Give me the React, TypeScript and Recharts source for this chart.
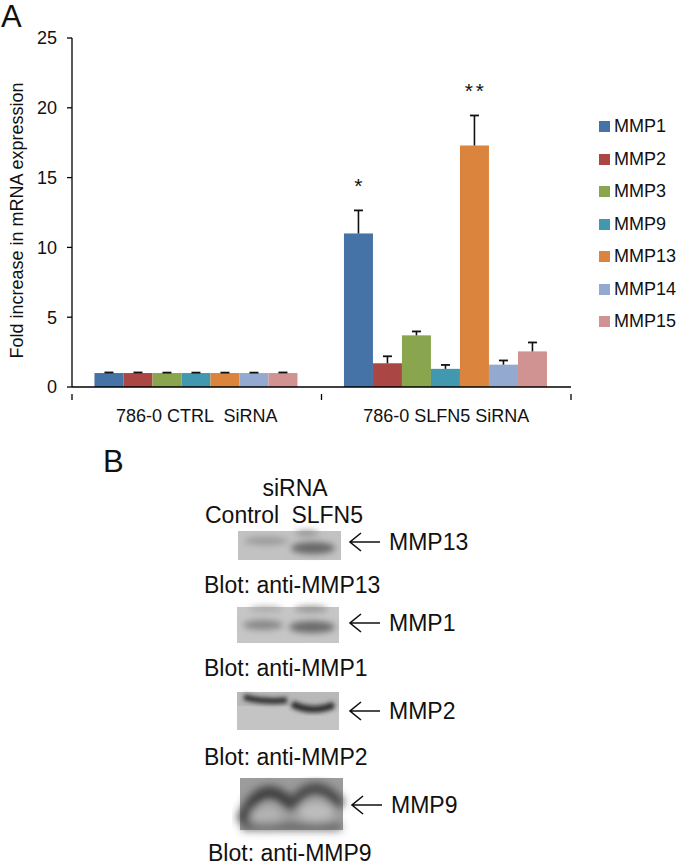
import React from "react";
import { BarChart, Bar, XAxis, YAxis, Legend } from "recharts";

const FONT = "'Liberation Sans', Arial, Helvetica, sans-serif";

// ---------- Panel A data ----------
const categories = ["786-0 CTRL  SiRNA", "786-0 SLFN5 SiRNA"];
const seriesNames = ["MMP1", "MMP2", "MMP3", "MMP9", "MMP13", "MMP14", "MMP15"];
const seriesColors = ["#4572A7", "#AA4643", "#89A54E", "#4198AF", "#DB843D", "#93A9CF", "#D19392"];

const mmp1 = [1.0, 11.0];
const mmp2 = [1.0, 1.7];
const mmp3 = [1.0, 3.7];
const mmp9 = [1.0, 1.3];
const mmp13 = [1.0, 17.3];
const mmp14 = [1.0, 1.6];
const mmp15 = [1.0, 2.55];

const mmp1Err = [0.04, 1.65];
const mmp2Err = [0.04, 0.5];
const mmp3Err = [0.03, 0.28];
const mmp9Err = [0.03, 0.28];
const mmp13Err = [0.03, 2.15];
const mmp14Err = [0.03, 0.3];
const mmp15Err = [0.04, 0.64];

const mmp1Sig = [0, 1];
const mmp13Sig = [0, 2];
const noSig = [0, 0];

const yTicks = [0, 5, 10, 15, 20, 25];
const yLabel = "Fold increase in mRNA expression";

const seriesValues = [mmp1, mmp2, mmp3, mmp9, mmp13, mmp14, mmp15];
const seriesErrors = [mmp1Err, mmp2Err, mmp3Err, mmp9Err, mmp13Err, mmp14Err, mmp15Err];
const seriesSig = [mmp1Sig, noSig, noSig, noSig, mmp13Sig, noSig, noSig];

const data = categories.map((cat, i) => {
  const row: any = { category: cat };
  seriesNames.forEach((s, k) => {
    row[s] = seriesValues[k][i];
    row[s + "Err"] = seriesErrors[k][i];
    row[s + "Sig"] = seriesSig[k][i];
  });
  return row;
});

// ---------- Panel B content ----------
const blotNames = ["MMP13", "MMP1", "MMP2", "MMP9"];
const blotCaptions = ["Blot: anti-MMP13", "Blot: anti-MMP1", "Blot: anti-MMP2", "Blot: anti-MMP9"];
const laneLabels = ["Control", "SLFN5"];
const headerLabel = "siRNA";

const makeShape = (name: string, color: string) => (props: any) => {
  const { x, y, width, height, payload } = props;
  const value = payload[name];
  const err = payload[name + "Err"];
  const sig = payload[name + "Sig"] || 0;
  const ppu = value ? height / value : 0;
  const top = y - err * ppu;
  const cx = x + width / 2;
  const stars = [];
  for (let k = 0; k < sig; k++) {
    const sx = cx + (k - (sig - 1) / 2) * 11;
    stars.push(
      <text key={k} x={sx} y={top - 17} textAnchor="middle" fontSize={21} fontFamily={FONT} fill="#111">
        *
      </text>
    );
  }
  return (
    <g>
      <rect x={x} y={y} width={width} height={height} fill={color} />
      <line x1={cx} x2={cx} y1={y} y2={top} stroke="#111" strokeWidth={1.6} />
      <line x1={cx - 4.5} x2={cx + 4.5} y1={top} y2={top} stroke="#111" strokeWidth={1.8} />
      {stars}
    </g>
  );
};

const XTick = (props: any) => {
  const { x, y, payload, index } = props;
  const off = payload && typeof payload.offset === "number" ? payload.offset : 0;
  return (
    <g>
      {index === 0 && off ? <line x1={x - off} x2={x - off} y1={y - 1} y2={y + 5} stroke="#000" strokeWidth={1.3} /> : null}
      {off ? <line x1={x + off} x2={x + off} y1={y - 1} y2={y + 5} stroke="#000" strokeWidth={1.3} /> : null}
      <text
        x={x}
        y={y + 27}
        textAnchor="middle"
        fontSize={18}
        fontFamily={FONT}
        fill="#111"
        style={{ whiteSpace: "pre" }}
      >
        {payload.value}
      </text>
    </g>
  );
};

const LegendContent = () => (
  <div style={{ fontFamily: FONT, fontSize: 18, color: "#111" }}>
    {seriesNames.map((s, i) => (
      <div key={s} style={{ height: 32.5, display: "flex", alignItems: "center" }}>
        <span style={{ display: "inline-block", width: 11, height: 11, background: seriesColors[i], marginRight: 4 }} />
        <span>{s}</span>
      </div>
    ))}
  </div>
);

const YLabel = (props: any) => {
  const vb = props.viewBox || { x: 0, y: 38, width: 72, height: 349 };
  const cx = vb.x + 17;
  const cy = vb.y + vb.height / 2 + 8;
  return (
    <text
      x={cx}
      y={cy}
      transform={`rotate(-90, ${cx}, ${cy})`}
      textAnchor="middle"
      dominantBaseline="central"
      fontSize={18}
      fontFamily={FONT}
      fill="#111"
    >
      {yLabel}
    </text>
  );
};

// blot drawings
const Blot13 = () => (
  <g>
    <rect x={238} y={531} width={103} height={29} fill="#c2c2c2" />
    <g filter="url(#blur3)">
      <ellipse cx={266} cy={541} rx={22} ry={4} fill="#9a9a9a" />
      <ellipse cx={313} cy={548} rx={22} ry={6} fill="#666" />
      <ellipse cx={307} cy={533} rx={12} ry={2.5} fill="#8a8a8a" />
    </g>
  </g>
);
const Blot1 = () => (
  <g>
    <rect x={237} y={607} width={102} height={36} fill="#c6c6c6" />
    <g filter="url(#blur3)">
      <ellipse cx={263} cy={625} rx={20} ry={5} fill="#878787" />
      <ellipse cx={312} cy={627} rx={23} ry={6} fill="#6a6a6a" />
      <ellipse cx={266} cy={609} rx={17} ry={2.5} fill="#a2a2a2" />
      <ellipse cx={311} cy={609} rx={17} ry={3} fill="#8e8e8e" />
    </g>
  </g>
);
const Blot2 = () => (
  <g>
    <rect x={237} y={692} width={102} height={38} fill="#c4c4c4" />
    <rect x={237} y={692} width={102} height={14} fill="#b8b8b8" />
    <g filter="url(#blur2)">
      <path d="M244 697 Q265 703 287 700" stroke="#2e2e2e" strokeWidth={6} fill="none" />
      <path d="M292 704 Q312 714 334 705" stroke="#2f2f2f" strokeWidth={7} fill="none" />
    </g>
  </g>
);
const Blot9 = () => (
  <g>
    <rect x={240} y={778} width={103} height={52} fill="#9c9c9c" />
    <g filter="url(#blur4)">
      <path d="M242 822 Q262 772 292 806" stroke="#3a3a3a" strokeWidth={12} fill="none" />
      <path d="M290 808 Q314 770 341 806" stroke="#444" strokeWidth={11} fill="none" />
      <ellipse cx={266} cy={815} rx={16} ry={9} fill="#b3b3b3" />
      <ellipse cx={316} cy={812} rx={18} ry={10} fill="#bdbdbd" />
      <rect x={242} y={824} width={99} height={6} fill="#555" />
    </g>
  </g>
);

const blotLayout = [
  { draw: Blot13, arrowY: 542, captionY: 585 },
  { draw: Blot1, arrowY: 623, captionY: 668 },
  { draw: Blot2, arrowY: 711, captionY: 757 },
  { draw: Blot9, arrowY: 805, captionY: 853 },
];

export default function App() {
  return (
    <div style={{ position: "absolute", left: 0, top: 0, width: 680, height: 865, background: "#fff", fontFamily: FONT }}>
      <BarChart
        width={680}
        height={430}
        data={data}
        margin={{ top: 38, right: 109, left: 0, bottom: 13 }}
        barCategoryGap="9%"
        barGap={0}
      >
        <XAxis
          dataKey="category"
          axisLine={{ stroke: "#000", strokeWidth: 1.3 }}
          tickLine={false}
          tick={<XTick />}
          height={30}
          interval={0}
        />
        <YAxis
          domain={[0, 25]}
          ticks={yTicks}
          interval={0}
          width={72}
          tickSize={5}
          tickMargin={10}
          axisLine={{ stroke: "#000", strokeWidth: 1.3 }}
          tickLine={{ stroke: "#000", strokeWidth: 1.3 }}
          tick={{ fill: "#111", fontSize: 18, fontFamily: FONT }}
          label={<YLabel />}
          allowDataOverflow
        />
        <Legend
          layout="vertical"
          align="center"
          verticalAlign="middle"
          content={<LegendContent />}
          wrapperStyle={{ left: 599, top: 110.5, width: 81 }}
        />
        {seriesNames.map((s, i) => (
          <Bar key={s} dataKey={s} fill={seriesColors[i]} isAnimationActive={false} shape={makeShape(s, seriesColors[i])} />
        ))}
      </BarChart>

      <svg width={680} height={865} style={{ position: "absolute", left: 0, top: 0, pointerEvents: "none" }}>
        <defs>
          <filter id="blur2" x="-20%" y="-50%" width="140%" height="200%">
            <feGaussianBlur stdDeviation="2" />
          </filter>
          <filter id="blur3" x="-20%" y="-80%" width="140%" height="260%">
            <feGaussianBlur stdDeviation="3" />
          </filter>
          <filter id="blur4" x="-10%" y="-30%" width="120%" height="160%">
            <feGaussianBlur stdDeviation="4" />
          </filter>
        </defs>
        <text x={1} y={27} fontSize={31} fontFamily={FONT} fill="#111">A</text>
        <text x={103} y={472} fontSize={31} fontFamily={FONT} fill="#111">B</text>
        <text x={295} y={496} textAnchor="middle" fontSize={23} fontFamily={FONT} fill="#111">{headerLabel}</text>
        <text x={205} y={523} fontSize={23} fontFamily={FONT} fill="#111">{laneLabels[0]}</text>
        <text x={363} y={523} textAnchor="end" fontSize={23} fontFamily={FONT} fill="#111">{laneLabels[1]}</text>
        {blotLayout.map((b, i) => {
          const D = b.draw;
          const ax = i === 3 ? 352 : 350;
          return (
            <g key={blotNames[i]}>
              <D />
              <path
                d={`M${ax + 30} ${b.arrowY} L${ax} ${b.arrowY} M${ax + 11} ${b.arrowY - 9} L${ax} ${b.arrowY} L${ax + 11} ${b.arrowY + 9}`}
                stroke="#111"
                strokeWidth={1.6}
                fill="none"
              />
              <text x={ax + 39} y={b.arrowY + 8} fontSize={23} fontFamily={FONT} fill="#111">{blotNames[i]}</text>
              <text x={i === 3 ? 208 : 204} y={b.captionY + 8} fontSize={23} fontFamily={FONT} fill="#111">{blotCaptions[i]}</text>
            </g>
          );
        })}
      </svg>
    </div>
  );
}
